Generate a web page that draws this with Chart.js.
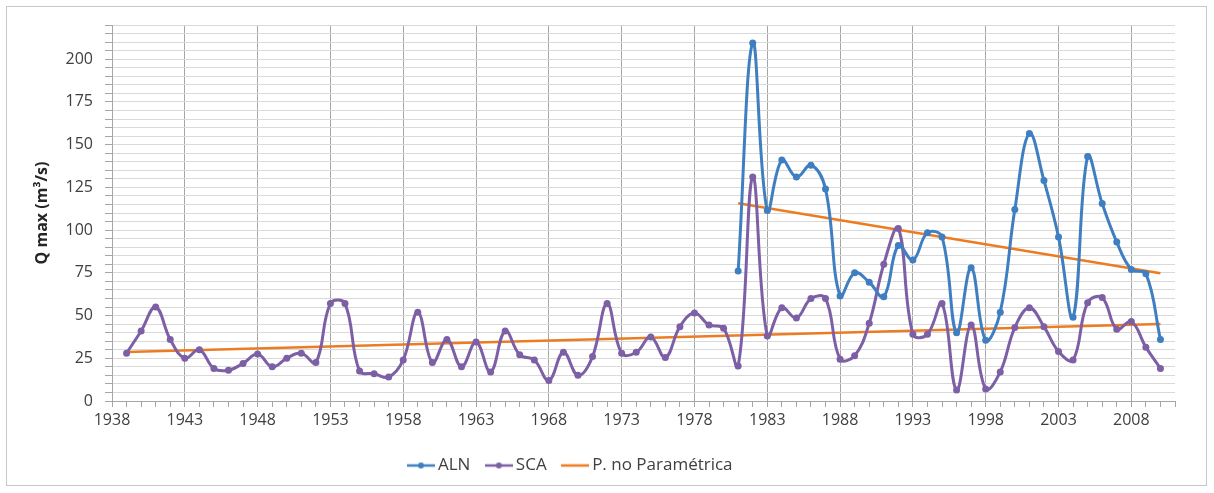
<!DOCTYPE html>
<html>
<head>
<meta charset="utf-8">
<script src="https://cdn.jsdelivr.net/npm/chart.js@4.4.0/dist/chart.umd.min.js"></script>
<style>
  html, body { margin: 0; padding: 0; background: #fff; }
  #wrap { position: relative; width: 1214px; height: 493px; }
  #frame { position: absolute; left: 6px; top: 6px; width: 1201px; height: 480px; border: 1px solid #c8c8c8; box-sizing: border-box; pointer-events: none; }
</style>
</head>
<body>
<div id="wrap">
  <canvas id="qChart" width="1214" height="493"></canvas>
  <div id="frame"></div>
</div>
<script>
const scaYears = [1939,1940,1941,1942,1943,1944,1945,1946,1947,1948,1949,1950,1951,1952,1953,1954,1955,1956,1957,1958,
  1959,1960,1961,1962,1963,1964,1965,1966,1967,1968,1969,1970,1971,1972,1973,1974,1975,1976,1977,1978,
  1979,1980,1981,1982,1983,1984,1985,1986,1987,1988,1989,1990,1991,1992,1993,1994,1995,1996,1997,1998,
  1999,2000,2001,2002,2003,2004,2005,2006,2007,2008,2009,2010];
const scaValues = [28,41,55,36,25,30,19,18,22,27.5,20,25,28,22.5,57,57,17.5,16,14,24,
  52,22.5,36,20,34.5,17,41,27,24,12,28.5,15,26,57,28,28.5,37.5,25.5,43.5,51.5,
  44.5,42.5,20.5,131,38,54.5,48.5,60,60,24.5,26.5,45.5,80,101,39,39,57,6.5,44.5,7,
  17,43,54.5,43.5,29,24,57.5,60.5,42,46.5,31.5,19];

const alnYears = [1981,1982,1983,1984,1985,1986,1987,1988,1989,1990,1991,1992,1993,1994,1995,
  1996,1997,1998,1999,2000,2001,2002,2003,2004,2005,2006,2007,2008,2009,2010];
const alnValues = [76,209.5,111.5,141,131,138,124,61.5,75,69.5,61,91,82.5,98.5,96,
  40,78,35.5,52,112,156.5,129,96,49,143,115.5,93,77,74.5,36];

// tendencias no paramétricas (inicio, fin)
const trendScaYears = [1939, 2010];
const trendScaValues = [28.7, 45];
const trendAlnYears = [1981, 2010];
const trendAlnValues = [115.7, 74.7];

const xTickLabels = [1938,1943,1948,1953,1958,1963,1968,1973,1978,1983,1988,1993,1998,2003,2008];
const yTickLabels = [0,25,50,75,100,125,150,175,200];

const blue = '#3F7FC1';
const purple = '#7D5FA5';
const orange = '#EC7C22';

function pts(xs, ys) { return xs.map((x, i) => ({ x: x, y: ys[i] })); }

function legendIcon(color, dot) {
  const c = document.createElement('canvas');
  c.width = 28; c.height = 10;
  const g = c.getContext('2d');
  g.strokeStyle = color; g.lineWidth = 2.5;
  g.beginPath(); g.moveTo(0, 5); g.lineTo(28, 5); g.stroke();
  if (dot) { g.fillStyle = color; g.beginPath(); g.arc(14, 5, 3, 0, Math.PI * 2); g.fill(); }
  return c;
}
const icons = [legendIcon(blue, true), legendIcon(purple, true), legendIcon(orange, false)];

// la leyenda del original no está centrada en el lienzo
const shiftLegend = {
  id: 'shiftLegend',
  afterLayout(chart) {
    chart.legend.left -= 30;
    chart.legend.right -= 30;
  }
};

const ctx = document.getElementById('qChart').getContext('2d');
new Chart(ctx, {
  type: 'line',
  data: {
    datasets: [
      { label: 'ALN', data: pts(alnYears, alnValues), borderColor: blue, backgroundColor: blue,
        borderWidth: 3, tension: 0.4, pointRadius: 3.5, pointBackgroundColor: blue, pointBorderWidth: 0 },
      { label: 'SCA', data: pts(scaYears, scaValues), borderColor: purple, backgroundColor: purple,
        borderWidth: 3, tension: 0.4, pointRadius: 3.5, pointBackgroundColor: purple, pointBorderWidth: 0 },
      { label: 'P. no Paramétrica', data: pts(trendScaYears, trendScaValues), borderColor: orange,
        backgroundColor: orange, borderWidth: 2.5, pointRadius: 0 },
      { label: 'P. no Paramétrica', data: pts(trendAlnYears, trendAlnValues), borderColor: orange,
        backgroundColor: orange, borderWidth: 2.5, pointRadius: 0 }
    ]
  },
  plugins: [shiftLegend],
  options: {
    responsive: false,
    animation: false,
    events: [],
    layout: { padding: { left: 30, right: 39, top: 25, bottom: 9 } },
    plugins: {
      tooltip: { enabled: false },
      legend: {
        position: 'bottom',
        labels: {
          color: '#404040',
          font: { family: 'Open Sans', size: 17 },
          usePointStyle: true,
          boxWidth: 28,
          padding: 20,
          generateLabels: (chart) => chart.data.datasets.slice(0, 3).map((ds, i) => ({
            text: ds.label, pointStyle: icons[i], datasetIndex: i,
            fontColor: '#404040', strokeStyle: ds.borderColor, fillStyle: ds.borderColor, lineWidth: 0
          }))
        }
      }
    },
    scales: {
      x: {
        type: 'linear',
        min: 1938, max: 2011,
        afterBuildTicks: (scale) => {
          const t = [];
          for (let v = 1938; v <= 2011; v++) t.push({ value: v });
          scale.ticks = t;
        },
        afterFit: (scale) => { scale.height = 36; },
        ticks: {
          autoSkip: false, maxRotation: 0, padding: 4,
          color: '#404040',
          font: { family: 'Open Sans', size: 16 },
          callback: (v) => xTickLabels.includes(v) ? String(v) : ''
        },
        grid: {
          color: (c) => (c.tick && xTickLabels.includes(c.tick.value) && c.tick.value !== 1938) ? '#a6a6a6' : 'rgba(0,0,0,0)',
          tickColor: '#a6a6a6',
          tickLength: 6,
          lineWidth: 1
        },
        border: { color: '#a6a6a6' }
      },
      y: {
        min: 0, max: 220,
        afterBuildTicks: (scale) => {
          const t = [];
          for (let v = 0; v <= 220; v += 5) t.push({ value: v });
          scale.ticks = t;
        },
        afterFit: (scale) => { scale.width = 82; },
        ticks: {
          autoSkip: false, padding: 12,
          color: '#404040',
          font: { family: 'Open Sans', size: 16 },
          callback: (v) => yTickLabels.includes(v) ? String(v) : ''
        },
        grid: {
          color: (c) => (c.tick && c.tick.value === 0) ? 'rgba(0,0,0,0)' : '#d9d9d9',
          tickColor: '#a6a6a6',
          tickLength: 7
        },
        border: { color: '#a6a6a6' },
        title: {
          display: true,
          text: 'Q max (m³/s)',
          color: '#262626',
          font: { family: 'Open Sans', size: 16, weight: 'bold' },
          padding: { top: 3, bottom: 0 }
        }
      }
    }
  }
});
</script>
</body>
</html>
